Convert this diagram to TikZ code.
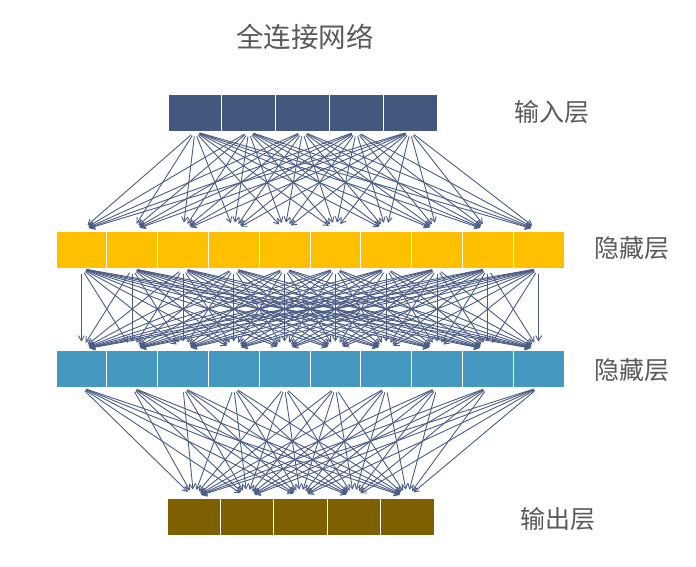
\documentclass[tikz,border=0pt]{standalone}
\usepackage{fontspec}
\newfontfamily\cjk{Noto Sans CJK SC}
\usetikzlibrary{arrows.meta}
\definecolor{inblue}{HTML}{44587F}
\definecolor{hidyellow}{HTML}{FFC000}
\definecolor{hidblue}{HTML}{4599C1}
\definecolor{outbrown}{HTML}{7F6000}
\definecolor{wire}{HTML}{4A5C85}
\definecolor{labelgray}{HTML}{595959}
\begin{document}
\begin{tikzpicture}[x=1pt, y=-1pt]
      \tikzstyle{unit}=[draw=white, line width=1pt, minimum height=37pt, inner sep=0pt]
      \tikzstyle{arrow}=[wire, line width=0.9pt, -{Straight Barb[length=5pt, width=6pt]},
                         shorten <=5pt, shorten >=8pt]
      \tikzstyle{caption}=[font=\cjk\fontsize{25}{30}\selectfont, text=labelgray]
      \useasboundingbox (0,0) rectangle (696,566);
      \node[caption, font=\cjk\fontsize{27.5}{32}\selectfont] (title) at (305,37) {全连接网络};
      % layers
      \foreach \i in {1,...,5}
        \node[unit, fill=inblue, minimum width=53.8pt] (in\i) at ({194.9+53.8*(\i-1)},112.5) {};
      \foreach \i in {1,...,10}
        \node[unit, fill=hidyellow, minimum width=50.8pt] (ha\i) at ({81.4+50.8*(\i-1)},249.5) {};
      \foreach \i in {1,...,10}
        \node[unit, fill=hidblue, minimum width=50.8pt] (hb\i) at ({81.4+50.8*(\i-1)},368.5) {};
      \foreach \i in {1,...,5}
        \node[unit, fill=outbrown, minimum width=53.4pt] (out\i) at ({193.7+53.4*(\i-1)},516.5) {};
      % labels
      \node[caption] (lin)  at (552,112) {输入层};
      \node[caption] (lha)  at (632,248) {隐藏层};
      \node[caption] (lhb)  at (632,370) {隐藏层};
      \node[caption] (lout) at (558,519) {输出层};
      % full connections
      \foreach \i in {1,...,5}
        \foreach \j in {1,...,10}
          \draw[arrow] (in\i.south) -- (ha\j.north);
      \foreach \i in {1,...,10}
        \foreach \j in {1,...,10}
          \draw[arrow] (ha\i.south) -- (hb\j.north);
      \foreach \i in {1,...,10}
        \foreach \j in {1,...,5}
          \draw[arrow] (hb\i.south) -- (out\j.north);
\end{tikzpicture}
\end{document}
